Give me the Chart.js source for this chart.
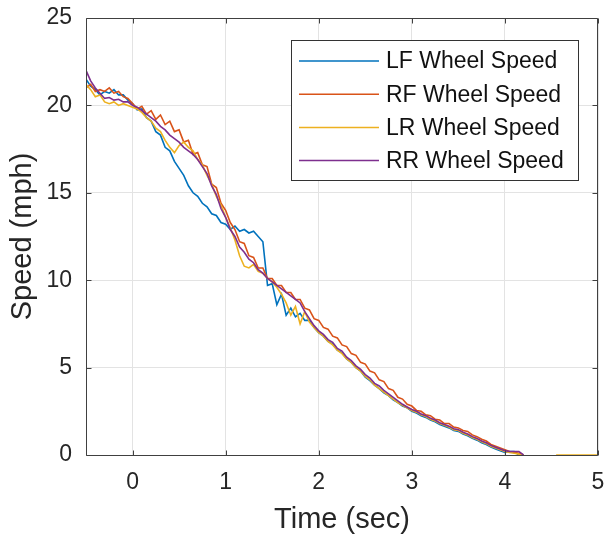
<!DOCTYPE html>
<html>
<head>
<meta charset="utf-8">
<title>Wheel speed</title>
<script src="https://cdn.jsdelivr.net/npm/chart.js@4/dist/chart.umd.min.js"></script>
<style>
  html, body { margin: 0; padding: 0; background: #fff; }
  #wrap { width: 609px; height: 537px; position: relative; }
</style>
</head>
<body>
<div id="wrap"><canvas id="speedChart"></canvas></div>
<script>
// sample times (sec), shared by all four wheels
const timeSec = [
  -0.5, -0.45, -0.4, -0.35, -0.3, -0.25, -0.2, -0.15, -0.1, -0.05,
  0, 0.05, 0.1, 0.15, 0.2, 0.25, 0.3, 0.35, 0.4, 0.45,
  0.5, 0.55, 0.6, 0.65, 0.7, 0.75, 0.8, 0.85, 0.9, 0.95,
  1, 1.05, 1.1, 1.15, 1.2, 1.25, 1.3, 1.35, 1.4, 1.45,
  1.5, 1.55, 1.6, 1.65, 1.7, 1.75, 1.8, 1.85, 1.9, 1.95,
  2, 2.05, 2.1, 2.15, 2.2, 2.25, 2.3, 2.35, 2.4, 2.45,
  2.5, 2.55, 2.6, 2.65, 2.7, 2.75, 2.8, 2.85, 2.9, 2.95,
  3, 3.05, 3.1, 3.15, 3.2, 3.25, 3.3, 3.35, 3.4, 3.45,
  3.5, 3.55, 3.6, 3.65, 3.7, 3.75, 3.8, 3.85, 3.9, 3.95,
  4, 4.05, 4.1, 4.15, 4.2
];

// speeds (mph)
const lfSpeed = [
  21.5, 21.1, 20.9, 20.6, 20.8, 20.7, 20.9, 20.6, 20.6, 20.3,
  20.1, 19.75, 19.8, 19.3, 19.1, 18.5, 18.3, 17.6, 17.4, 16.8,
  16.4, 16.0, 15.4, 15.0, 14.8, 14.4, 14.2, 13.8, 13.7, 13.3,
  13.2, 12.9, 13.1, 12.8, 12.9, 12.7, 12.8, 12.5, 12.2, 9.7,
  9.8, 8.6, 9.2, 8.0, 8.4, 7.9, 8.1, 7.7, 7.7, 7.3,
  7.0, 6.8, 6.5, 6.35, 6.0, 5.85, 5.5, 5.3, 5.0, 4.8,
  4.45, 4.25, 4.0, 3.8, 3.55, 3.4, 3.15, 3.0, 2.8, 2.7,
  2.5, 2.4, 2.25, 2.15, 2.0, 1.9, 1.75, 1.65, 1.55, 1.4,
  1.35, 1.2, 1.1, 0.95, 0.85, 0.7, 0.6, 0.45, 0.35, 0.25,
  0.15, 0.2, 0.2, 0.0, null
];
const rfSpeed = [
  21.0, 21.2, 20.8, 20.9, 20.8, 21.0, 20.7, 20.8, 20.5, 20.4,
  20.1, 19.8, 19.95, 19.5, 19.7, 19.2, 19.45, 18.9, 19.1, 18.5,
  18.6, 17.9, 18.0, 17.2, 17.3, 16.6, 16.5, 15.5, 15.3, 14.4,
  14.0, 13.3, 12.9, 12.2, 12.1, 11.4, 11.3, 10.7, 10.7, 10.1,
  10.1, 9.7, 9.7, 9.3, 9.3, 8.9, 8.9, 8.4, 8.3, 7.8,
  7.7, 7.3, 7.2, 6.8, 6.7, 6.3, 6.2, 5.8, 5.7, 5.3,
  5.2, 4.8, 4.7, 4.3, 4.2, 3.8, 3.7, 3.3, 3.2, 2.9,
  2.8, 2.55, 2.5, 2.3, 2.25, 2.05, 2.0, 1.8, 1.8, 1.6,
  1.55, 1.4, 1.35, 1.15, 1.05, 0.9, 0.8, 0.6, 0.5, 0.4,
  0.3, 0.2, 0.15, 0.1, 0.0
];
const lrSpeed = [
  21.2, 20.9, 20.5, 20.6, 20.2, 20.1, 20.2, 20.0, 20.1, 20.0,
  19.9, 19.8, 19.6, 19.3, 19.1, 18.7, 18.5, 18.0, 17.6, 17.3,
  17.7, 17.9, 17.6, 17.4, 16.9, 16.6, 16.0, 15.5, 14.8, 14.3,
  13.6, 13.0, 12.3, 11.4, 10.8, 10.7, 10.9, 10.5, 10.4, 10.1,
  9.9, 9.6, 9.2, 8.7, 8.0, 8.5, 7.5, 8.2, 7.6, 7.3,
  7.0, 6.8, 6.5, 6.3, 6.0, 5.8, 5.5, 5.3, 5.0, 4.8,
  4.5, 4.3, 4.0, 3.8, 3.6, 3.4, 3.2, 3.0, 2.85, 2.7,
  2.55, 2.45, 2.3, 2.2, 2.05, 1.95, 1.8, 1.7, 1.6, 1.45,
  1.4, 1.25, 1.15, 1.0, 0.9, 0.75, 0.65, 0.5, 0.4, 0.3,
  0.2, 0.15, 0.1, 0.05, 0.0
];
const rrSpeed = [
  22.0, 21.4, 21.0, 20.7, 20.4, 20.45, 20.3, 20.35, 20.2, 20.2,
  20.0, 19.9, 19.7, 19.5, 19.3, 19.1, 18.8, 18.6, 18.3, 18.1,
  17.9, 17.6, 17.4, 17.2, 16.9, 16.5, 16.1, 15.4, 14.9, 14.1,
  13.6, 12.9, 12.5, 11.9, 11.6, 11.2, 11.0, 10.6, 10.4, 10.1,
  9.9, 9.7, 9.5, 9.3, 9.1, 8.9, 8.7, 8.2, 7.8, 7.4,
  7.1, 6.9, 6.6, 6.45, 6.1, 5.95, 5.6, 5.4, 5.1, 4.9,
  4.6, 4.4, 4.1, 3.95, 3.7, 3.5, 3.3, 3.1, 2.9, 2.75,
  2.6, 2.5, 2.35, 2.25, 2.1, 2.0, 1.85, 1.75, 1.65, 1.5,
  1.45, 1.3, 1.2, 1.05, 0.95, 0.8, 0.7, 0.55, 0.45, 0.35,
  0.25, 0.2, 0.2, 0.2, 0.0
];
// LR sensor comes back at zero near the end of the record
const lrTailTime = [4.55, 5.0];
const lrTailSpeed = [0, 0];

const seriesLabels = ["LF Wheel Speed", "RF Wheel Speed", "LR Wheel Speed", "RR Wheel Speed"];
const seriesColors = ["#0072BD", "#D95319", "#EDB120", "#7E2F8E"];

const xTicks = { min: -0.5, max: 5, step: 1 };
const yTicks = { min: 0, max: 25, step: 5 };

const FONT = "'Liberation Sans', Arial, Helvetica, sans-serif";
const INK = "#262626";

function toPoints(ts, vs) {
  return ts.map((t, i) => ({ x: t, y: vs[i] }));
}

const lrPoints = toPoints(timeSec, lrSpeed)
  .concat([{ x: 4.4, y: null }])
  .concat(toPoints(lrTailTime, lrTailSpeed));

const allSeries = [
  toPoints(timeSec, lfSpeed),
  toPoints(timeSec, rfSpeed),
  lrPoints,
  toPoints(timeSec, rrSpeed)
];

// MATLAB-like box with inward ticks, drawn over the lines
const axesBox = {
  id: "axesBox",
  afterDatasetsDraw(chart) {
    const { ctx, chartArea: a, scales: { x, y } } = chart;
    const L = Math.round(a.left) + 0.5, R = Math.round(a.right) - 0.5;
    const T = Math.round(a.top) + 0.5, B = Math.round(a.bottom) + 0.5;
    ctx.save();
    ctx.strokeStyle = "#404040";
    ctx.lineWidth = 1;
    ctx.beginPath();
    ctx.moveTo(L, T); ctx.lineTo(R, T); ctx.lineTo(R, B); ctx.lineTo(L, B); ctx.closePath();
    const tl = 5;
    for (const t of x.ticks) {
      const px = Math.round(x.getPixelForValue(t.value)) + 0.5;
      ctx.moveTo(px, B); ctx.lineTo(px, B - tl);
      ctx.moveTo(px, T); ctx.lineTo(px, T + tl);
    }
    for (const t of y.ticks) {
      const py = Math.round(y.getPixelForValue(t.value)) + 0.5;
      ctx.moveTo(L, py); ctx.lineTo(L + tl, py);
      ctx.moveTo(R, py); ctx.lineTo(R - tl, py);
    }
    ctx.stroke();
    ctx.restore();
  }
};

// legend box in the upper right of the axes
const boxLegend = {
  id: "boxLegend",
  afterDraw(chart) {
    const { ctx } = chart;
    const bx = 291, by = 40, bw = 287, bh = 140, rowH = 33.2;
    ctx.save();
    ctx.fillStyle = "#fff";
    ctx.fillRect(bx, by, bw, bh);
    ctx.strokeStyle = "#333";
    ctx.lineWidth = 1;
    ctx.strokeRect(bx + 0.5, by + 0.5, bw, bh);
    ctx.font = "23px " + FONT;
    ctx.textBaseline = "middle";
    ctx.textAlign = "left";
    seriesLabels.forEach((label, i) => {
      const ly = by + 21 + i * rowH;
      ctx.strokeStyle = seriesColors[i];
      ctx.lineWidth = 1.5;
      ctx.beginPath();
      ctx.moveTo(bx + 8, ly);
      ctx.lineTo(bx + 88, ly);
      ctx.stroke();
      ctx.fillStyle = "#111";
      ctx.fillText(label, bx + 95, ly + 1);
    });
    ctx.restore();
  }
};

new Chart(document.getElementById("speedChart").getContext("2d"), {
  type: "line",
  data: {
    datasets: allSeries.map((pts, i) => ({
      label: seriesLabels[i],
      data: pts,
      borderColor: seriesColors[i],
      backgroundColor: seriesColors[i],
      borderWidth: 1.6,
      pointRadius: 0,
      tension: 0,
      spanGaps: false,
      order: allSeries.length - i   // RR on top, like MATLAB plot order
    }))
  },
  options: {
    responsive: true,
    maintainAspectRatio: false,
    animation: false,
    layout: { padding: { top: 18, right: 11, left: 0, bottom: 0 } },
    plugins: {
      legend: { display: false },
      tooltip: { enabled: false }
    },
    scales: {
      x: {
        type: "linear",
        min: xTicks.min,
        max: xTicks.max,
        border: { display: false },
        grid: { color: "#e3e3e3", drawTicks: false },
        ticks: {
          stepSize: xTicks.step,
          includeBounds: false,
          padding: 14,
          color: INK,
          font: { family: FONT, size: 23 }
        },
        title: {
          display: true,
          text: "Time (sec)",
          color: INK,
          font: { family: FONT, size: 29 },
          padding: { top: 0, bottom: 0 }
        },
        afterFit(scale) {
          scale.height = 82;
          scale.paddingLeft = 0;
          scale.paddingRight = 0;
        }
      },
      y: {
        min: yTicks.min,
        max: yTicks.max,
        border: { display: false },
        grid: { color: "#e3e3e3", drawTicks: false },
        ticks: {
          stepSize: yTicks.step,
          padding: 14,
          color: INK,
          font: { family: FONT, size: 23 }
        },
        title: {
          display: true,
          text: "Speed (mph)",
          color: INK,
          font: { family: FONT, size: 29 },
          padding: { top: 6, bottom: 6 }
        },
        afterFit(scale) {
          scale.width = 86;
          scale.paddingTop = 0;
          scale.paddingBottom = 0;
        }
      }
    }
  },
  plugins: [axesBox, boxLegend]
});
</script>
</body>
</html>
